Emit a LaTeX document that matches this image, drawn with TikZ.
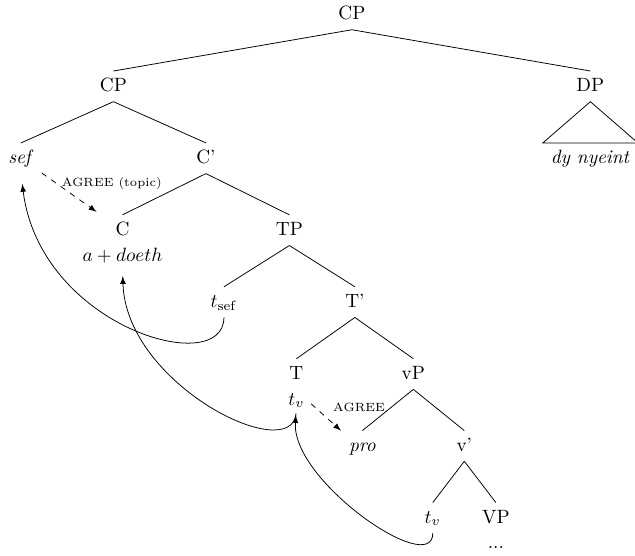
\documentclass[tikz,border=0pt]{standalone}
\usepackage{tikz}
\usetikzlibrary{trees,positioning}

\begin{document}
\begin{tikzpicture}[level distance=37.4pt,
		level 1/.style={sibling distance=248pt},
		level 2/.style={sibling distance=96.2pt},
		level 3/.style={sibling distance=86.8pt},
		level 4/.style={sibling distance=68.1pt},
		level 5/.style={sibling distance=60.8pt},
		level 6/.style={sibling distance=53pt},
		level 7/.style={sibling distance=32.8pt},
		edge from parent path={(\tikzparentnode.south) -- (\tikzchildnode.north)},
		>=latex]
		\tikzstyle{every node}=[text height=1.5ex, text depth=.25ex, inner sep=4pt]
		\tikzstyle{second}=[inner sep=1pt]
		\tikzstyle{agree}=[font=\fontsize{6.2}{7}\selectfont, inner sep=1pt]
		\useasboundingbox (-183pt,7.5pt) rectangle (147.2pt,-281.6pt);
		\node (cp0) {CP}
		child {node (cp1) {CP}
			child {node (sef) {\textit{sef}}}
			child {node (cbar) {C'}
				child {node (c) {C}}
				child {node (tp) {TP}
					child {node (tsef) {$t_{\mathrm{sef}}$}}
					child {node (tbar) {T'}
						child {node (t) {T}}
						child {node (vp) {vP}
							child {node (pro) {\textit{pro}}}
							child {node (vbar) {v'}
								child {node (tvlow) {$t_v$}}
								child {node (vpl) {VP}}
							}
						}
					}
				}
			}
		}
		child {node (dp) {DP}
			child {node (dyn) {\textit{dy nyeint}} edge from parent[draw=none]}
		};
		\node[below=0.5pt of c, second] (doeth) {$a + doeth$};
		\node[below=0.5pt of t, second] (tvup) {$t_v$};
		\node[below=0.5pt of vpl, second] (dots) {...};
		\draw (dp.south) -- (dyn.north west) -- (dyn.north east) -- cycle;
		\draw[dashed, ->, shorten >=7pt] (sef) -- node[agree, pos=.17, right=3.5pt] {AGREE (topic)} (c);
		\draw[dashed, ->, shorten <=3pt] (tvup.east) -- node[agree, pos=.2, right=9pt] {AGREE} (pro.north west);
		\draw[->, shorten >=5.5pt] (tsef.south) .. controls +(0,-32pt) and +(10pt,-80pt) .. (sef.south);
		\draw[->, shorten <=2pt, shorten >=5.5pt] (tvup.south) .. controls +(-2.6pt,-29.6pt) and +(1.6pt,-62pt) .. (doeth.south);
		\draw[->, shorten >=3pt] (tvlow.south) .. controls +(0,-23.4pt) and +(-3pt,-37pt) .. (tvup.south);
	\end{tikzpicture}
\end{document}
